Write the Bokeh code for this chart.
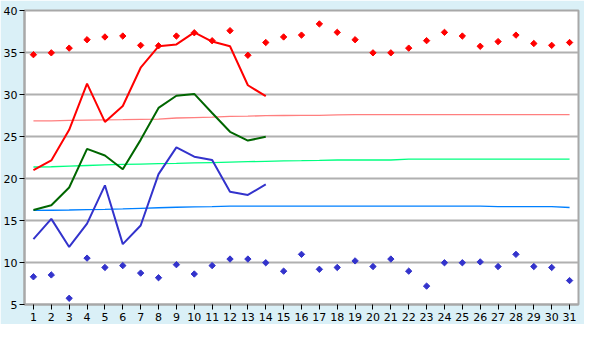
import math
from bokeh.plotting import figure
from bokeh.models import FixedTicker
from bokeh.embed import file_html
from bokeh.resources import INLINE

days = list(range(1, 32))
days14 = list(range(1, 15))

record_max = [34.74, 34.96, 35.52, 36.52, 36.85, 36.96, 35.85, 35.8, 36.96, 37.35,
              36.4, 37.6, 34.67, 36.19, 36.85, 37.07, 38.4, 37.4, 36.52, 34.96,
              34.96, 35.52, 36.41, 37.4, 36.96, 35.74, 36.3, 37.07, 36.07, 35.85, 36.19]
record_min = [8.3, 8.52, 5.74, 10.52, 9.41, 9.63, 8.74, 8.19, 9.74, 8.63,
              9.63, 10.41, 10.41, 9.97, 8.97, 10.97, 9.19, 9.41, 10.19, 9.52,
              10.41, 8.97, 7.19, 9.97, 9.97, 10.07, 9.52, 10.97, 9.52, 9.41, 7.85]

daily_max = [21.0, 22.15, 25.8, 31.3, 26.74, 28.63, 33.19, 35.74, 35.96, 37.4,
             36.3, 35.74, 31.1, 29.8]
daily_mean = [16.26, 16.81, 18.93, 23.52, 22.74, 21.1, 24.6, 28.4, 29.85, 30.07,
              27.8, 25.56, 24.52, 24.96]
daily_min = [12.78, 15.19, 11.85, 14.63, 19.19, 12.19, 14.41, 20.52, 23.7, 22.6,
             22.2, 18.41, 18.04, 19.3]

normal_max = [26.85, 26.87, 26.92, 26.95, 26.97, 27.0, 27.05, 27.08, 27.2, 27.25,
              27.3, 27.4, 27.42, 27.48, 27.5, 27.52, 27.52, 27.58, 27.6, 27.6,
              27.6, 27.6, 27.6, 27.6, 27.6, 27.6, 27.6, 27.6, 27.6, 27.6, 27.6]
normal_mean = [21.37, 21.4, 21.48, 21.55, 21.63, 21.68, 21.72, 21.76, 21.8, 21.85,
               21.9, 21.95, 22.0, 22.05, 22.1, 22.12, 22.15, 22.2, 22.2, 22.2,
               22.2, 22.3, 22.3, 22.3, 22.3, 22.3, 22.3, 22.3, 22.3, 22.3, 22.3]
normal_min = [16.2, 16.22, 16.25, 16.3, 16.33, 16.38, 16.45, 16.52, 16.58, 16.62,
              16.65, 16.72, 16.72, 16.72, 16.72, 16.72, 16.72, 16.72, 16.72, 16.72,
              16.72, 16.72, 16.72, 16.72, 16.72, 16.72, 16.65, 16.65, 16.65, 16.65, 16.55]

y_ticks = [5, 10, 15, 20, 25, 30, 35, 40]

p = figure(width=584, height=324, x_range=(0.5, 31.5), y_range=(5, 40),
           output_backend="svg", toolbar_location=None,
           min_border_left=24, min_border_right=6, min_border_top=10, min_border_bottom=20)

p.background_fill_color = "white"
p.border_fill_color = "#DAF0F7"
p.outline_line_color = "#A8A8A8"
p.outline_line_width = 2

p.xgrid.visible = False
p.ygrid.grid_line_color = "#B0B0B0"
p.ygrid.grid_line_width = 2
p.ygrid.ticker = FixedTicker(ticks=y_ticks)

for ax in (p.xaxis, p.yaxis):
    ax.axis_line_color = "#A8A8A8"
    ax.axis_line_width = 2
    ax.major_tick_line_color = "black"
    ax.major_tick_in = 0
    ax.major_tick_out = 5
    ax.minor_tick_line_color = None
    ax.major_label_text_font = "DejaVu Sans"
    ax.major_label_text_font_size = "11px"
    ax.major_label_text_color = "black"

p.xaxis.ticker = FixedTicker(ticks=days)
p.yaxis.ticker = FixedTicker(ticks=y_ticks)
p.xaxis.major_label_standoff = 3
p.yaxis.major_label_standoff = 2

# normals
p.line(days, normal_max, line_color="#FF7F7F", line_width=1.3)
p.line(days, normal_mean, line_color="#00FF80", line_width=1.3)
p.line(days, normal_min, line_color="#0080FF", line_width=1.3)

# daily
p.line(days14, daily_max, line_color="#FF0000", line_width=2)
p.line(days14, daily_mean, line_color="#006600", line_width=2)
p.line(days14, daily_min, line_color="#3333CC", line_width=2)

# records
p.scatter(days, record_max, marker="square", size=4.5, angle=math.pi / 4,
          fill_color="#FF0000", line_color="#FF0000", line_width=1)
p.scatter(days, record_min, marker="square", size=4.5, angle=math.pi / 4,
          fill_color="#3333CC", line_color="#3333CC", line_width=1)

open("out.html", "w").write(file_html(p, INLINE))
